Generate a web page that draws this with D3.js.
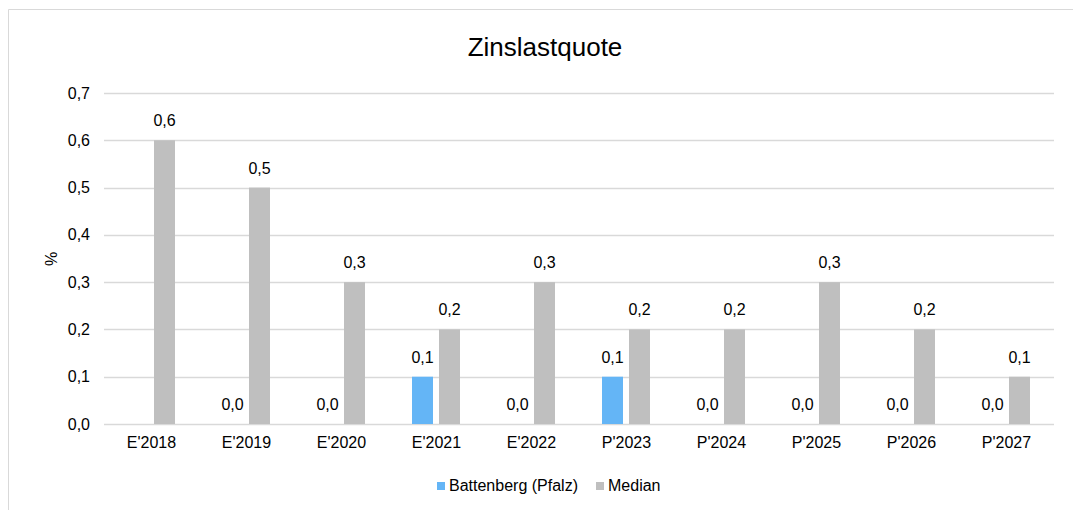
<!DOCTYPE html>
<html>
<head>
<meta charset="utf-8">
<script src="https://cdn.jsdelivr.net/npm/d3@7"></script>
<style>
body { margin: 0; background: #fff; }
svg { font-family: "Liberation Sans", Arial, sans-serif; }
</style>
</head>
<body>
<svg id="chart" width="1073" height="510"></svg>
<script>
var categories = ["E'2018", "E'2019", "E'2020", "E'2021", "E'2022", "P'2023", "P'2024", "P'2025", "P'2026", "P'2027"];
var battenberg = [null, 0.0, 0.0, 0.1, 0.0, 0.1, 0.0, 0.0, 0.0, 0.0];
var median = [0.6, 0.5, 0.3, 0.2, 0.3, 0.2, 0.2, 0.3, 0.2, 0.1];
var yTicks = [0, 0.1, 0.2, 0.3, 0.4, 0.5, 0.6, 0.7];
var seriesNames = ["Battenberg (Pfalz)", "Median"];
var colors = ["#64b5f6", "#bfbfbf"];

var svg = d3.select("#chart");
var fmt = function(v) { return d3.format(".1f")(v).replace(".", ","); };
var fs = 16;

// chart frame
svg.append("path").attr("d", "M8.5,510 V9.5 H1073")
    .attr("fill", "none").attr("stroke", "#d9d9d9").attr("stroke-width", 1);

var plotL = 104, plotR = 1054, plotT = 93, plotB = 424;
var x = d3.scaleBand().domain(categories).range([plotL, plotR]);
var y = d3.scaleLinear().domain([0, 0.7]).range([plotB, plotT]);

svg.append("text").attr("x", 545).attr("y", 56).attr("text-anchor", "middle")
    .attr("font-size", 26).attr("fill", "#000").text("Zinslastquote");

// gridlines
svg.append("g").selectAll("line").data(yTicks).enter().append("line")
    .attr("x1", plotL).attr("x2", plotR)
    .attr("y1", function(d) { return Math.round(y(d)) + 0.5; })
    .attr("y2", function(d) { return Math.round(y(d)) + 0.5; })
    .attr("stroke", "#d9d9d9").attr("stroke-width", 1.3);

// y axis
var yAxis = svg.append("g").attr("transform", "translate(" + (plotL - 14) + ",0)")
    .call(d3.axisLeft(y).tickValues(yTicks).tickFormat(fmt).tickSize(0).tickPadding(0));
yAxis.select(".domain").remove();
yAxis.selectAll("text").attr("font-size", fs).attr("fill", "#000")
    .attr("font-family", "Liberation Sans, Arial, sans-serif");

svg.append("text").attr("transform", "translate(57,259) rotate(-90)")
    .attr("text-anchor", "middle").attr("font-size", fs).text("%");

// x axis
var xAxis = svg.append("g").attr("transform", "translate(0," + plotB + ")")
    .call(d3.axisBottom(x).tickSize(0).tickPadding(13));
xAxis.select(".domain").remove();
xAxis.selectAll("text").attr("font-size", fs).attr("fill", "#000")
    .attr("font-family", "Liberation Sans, Arial, sans-serif");

var bw = 21;
var offsets = [-24.5, 2.5];
[battenberg, median].forEach(function(vals, si) {
    var data = vals.map(function(v, i) { return { c: categories[i], v: v }; })
        .filter(function(d) { return d.v !== null; });
    var g = svg.append("g");
    g.selectAll("rect").data(data).enter().append("rect")
        .attr("x", function(d) { return x(d.c) + x.bandwidth() / 2 + offsets[si]; })
        .attr("width", bw)
        .attr("y", function(d) { return y(d.v); })
        .attr("height", function(d) { return y(0) - y(d.v); })
        .attr("fill", colors[si]);
    g.selectAll("text").data(data).enter().append("text")
        .attr("x", function(d) { return x(d.c) + x.bandwidth() / 2 + offsets[si] + bw / 2; })
        .attr("y", function(d) { return y(d.v) - 14; })
        .attr("text-anchor", "middle").attr("font-size", fs).attr("fill", "#000")
        .text(function(d) { return fmt(d.v); });
});

// legend
var legendX = [437, 596];
seriesNames.forEach(function(n, i) {
    svg.append("rect").attr("x", legendX[i]).attr("y", 482).attr("width", 8).attr("height", 8)
        .attr("fill", colors[i]);
    svg.append("text").attr("x", legendX[i] + 12).attr("y", 491)
        .attr("font-size", fs).attr("fill", "#000").text(n);
});
</script>
</body>
</html>
